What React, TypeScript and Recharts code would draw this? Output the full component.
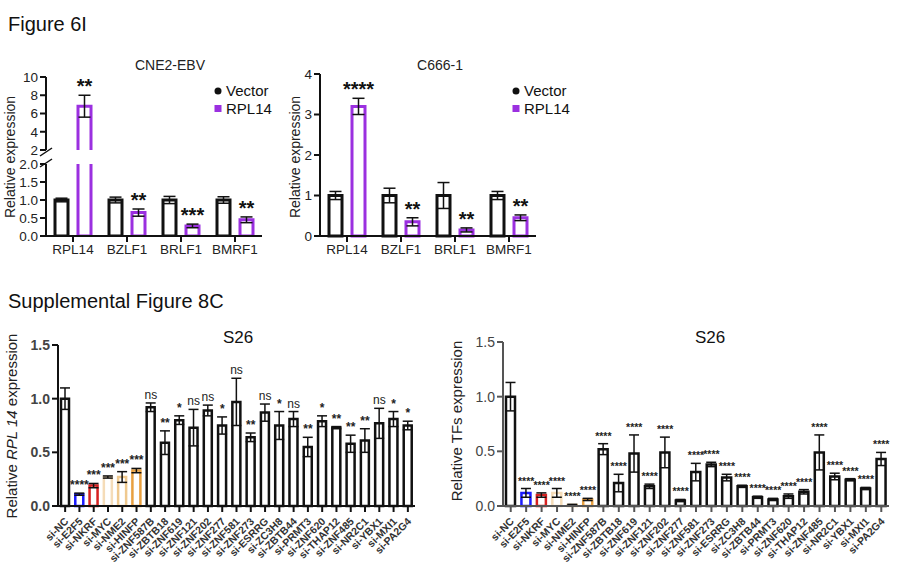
import React from "react";
import { BarChart, ComposedChart, Bar, XAxis, YAxis, ErrorBar, Cell, Scatter, LabelList } from "recharts";

const FONT = "'Liberation Sans', Arial, sans-serif";
const PURPLE = "#9b30e0";

const genes = ["RPL14", "BZLF1", "BRLF1", "BMRF1"];
const cneVector = [1.0, 1.0, 1.0, 1.0];
const cneVectorErr = [0.05, 0.08, 0.1, 0.09];
const cneRpl = [6.8, 0.65, 0.28, 0.45];
const cneRplErr = [1.2, 0.1, 0.05, 0.08];
const cneSig = ["**", "**", "***", "**"];
const c666Vector = [1.0, 1.0, 1.0, 1.0];
const c666VectorErr = [0.1, 0.18, 0.32, 0.1];
const c666Rpl = [3.2, 0.35, 0.15, 0.45];
const c666RplErr = [0.2, 0.1, 0.05, 0.07];
const c666Sig = ["****", "**", "**", "**"];

const sirna = ["si-NC","si-E2F5","si-NKRF","si-MYC","si-NME2","si-HINFP","si-ZNF587B","si-ZBTB18","si-ZNF619","si-ZNF121","si-ZNF202","si-ZNF277","si-ZNF581","si-ZNF273","si-ESRRG","si-ZC3H8","si-ZBTB44","si-PRMT3","si-ZNF620","si-THAP12","si-ZNF485","si-NR2C1","si-YBX1","si-MXI1","si-PA2G4"];
const barColors = ["#111","#1a1aff","#d62020","#f5dcb8","#efc98f","#e8a040","#111","#111","#111","#111","#111","#111","#111","#111","#111","#111","#111","#111","#111","#111","#111","#111","#111","#111","#111"];
const rplVals = [1.0,0.11,0.19,0.27,0.27,0.33,0.92,0.59,0.80,0.73,0.89,0.75,0.97,0.64,0.87,0.75,0.81,0.55,0.79,0.73,0.58,0.61,0.77,0.81,0.75];
const rplErr = [0.1,0.01,0.02,0.01,0.05,0.02,0.04,0.11,0.04,0.17,0.05,0.08,0.22,0.04,0.08,0.13,0.07,0.09,0.05,0.01,0.08,0.11,0.14,0.07,0.04];
const rplSig = ["","****","***","***","***","***","ns","**","*","ns","ns","*","ns","**","ns","*","ns","**","*","**","**","**","ns","*","*"];
const tfVals = [1.0,0.12,0.1,0.12,0.01,0.06,0.52,0.21,0.48,0.18,0.49,0.05,0.31,0.38,0.26,0.18,0.08,0.06,0.09,0.13,0.49,0.27,0.24,0.16,0.43];
const tfErr = [0.13,0.04,0.02,0.04,0.005,0.01,0.05,0.08,0.17,0.02,0.14,0.01,0.08,0.02,0.03,0.01,0.01,0.01,0.02,0.02,0.16,0.03,0.01,0.01,0.06];
const tfSig = ["","****","****","****","****","****","****","****","****","****","****","****","****","****","****","****","****","****","****","****","****","****","****","****","****"];

const cneData = genes.map((g, i) => ({ g, v: cneVector[i], ve: cneVectorErr[i], r: cneRpl[i], re: cneRplErr[i], s: cneSig[i] }));
const cneUpper = genes.map((g, i) => ({ g, v: null, r: cneRpl[i] > 2 ? cneRpl[i] : null, re: cneRplErr[i], s: cneSig[i] }));
const c666Data = genes.map((g, i) => ({ g, v: c666Vector[i], ve: c666VectorErr[i], r: c666Rpl[i], re: c666RplErr[i], s: c666Sig[i] }));
const rplData = sirna.map((n, i) => ({ n, v: rplVals[i], e: rplErr[i], top: rplVals[i] + rplErr[i], s: rplSig[i] }));
const tfData = sirna.map((n, i) => ({ n, v: tfVals[i], e: tfErr[i], top: tfVals[i] + tfErr[i], s: tfSig[i] }));

const tickStyle = { fontFamily: FONT, fontSize: 13.5, fill: "#222" };

const OpenTop = (p: any) => {
  const { x, y, width, height } = p;
  if (height == null || isNaN(height)) return null;
  return <path d={`M${x},${y + height} L${x},${y} L${x + width},${y} L${x + width},${y + height}`} fill="#fff" stroke={PURPLE} strokeWidth={3} />;
};

const sigContent = (unitPx: number, errs: number[], skip: (i: number) => boolean) => (p: any) => {
  const { x, y, width, index, value } = p;
  if (skip(index)) return null;
  const ey = y - errs[index] * unitPx;
  return <text x={x + width / 2} y={ey - 2} textAnchor="middle" fontFamily={FONT} fontSize={20} fontWeight="bold" fill="#111">{value}</text>;
};

const RotTick = (p: any) => {
  const { x, y, payload } = p;
  return (
    <text x={x + 4} y={y + 8} transform={`rotate(-45 ${x + 4} ${y + 8})`} textAnchor="end" fontFamily={FONT} fontSize={10.5} fontWeight="bold" fill="#333">{payload.value}</text>
  );
};

const SigShape = (fs: number) => (p: any) => {
  const { cx, cy, payload } = p;
  if (!payload.s) return null;
  return <text x={cx} y={cy - 4} textAnchor="middle" fontFamily={FONT} fontSize={fs} fontWeight={payload.s === "ns" ? "normal" : "bold"} fill="#222">{payload.s}</text>;
};

function SiChart({ data, domTicks, axisColor, margin, width, height }: any) {
  const bold = axisColor === "#111";
  return (
    <ComposedChart width={width} height={height} data={data} margin={margin} barCategoryGap={3}>
      <XAxis dataKey="n" interval={0} height={65} tick={<RotTick />} stroke={axisColor} strokeWidth={2} tickSize={6} />
      <YAxis domain={[0, 1.5]} ticks={domTicks} interval={0} width={margin.yw} tickFormatter={(v: number) => v.toFixed(1)} stroke={axisColor} strokeWidth={2} tick={{ fontFamily: FONT, fontSize: 14, fontWeight: bold ? "bold" : "normal", fill: "#444" }} />
      <Bar dataKey="v" fill="#fff" strokeWidth={2.5} isAnimationActive={false}>
        {data.map((d: any, i: number) => <Cell key={i} stroke={barColors[i]} />)}
        <ErrorBar dataKey="e" stroke="#111" strokeWidth={1.5} width={5} />
      </Bar>
      <Scatter dataKey="top" fill="#222" shape={SigShape(bold ? 12 : 10.5)} isAnimationActive={false} />
    </ComposedChart>
  );
}

export default function App() {
  const cneLowerUnit = 72 / 2;
  const cneUpperUnit = 73 / 8;
  const c666Unit = 162 / 4;
  return (
    <div style={{ position: "absolute", left: 0, top: 0, width: 900, height: 571, background: "#fff", fontFamily: FONT }}>
      <div style={{ position: "absolute", left: 0, top: 150 }}>
        <BarChart width={290} height={116} data={cneData} margin={{ top: 14, right: 28, left: 0, bottom: 0 }} barCategoryGap={9} barGap={10}>
          <XAxis dataKey="g" height={30} stroke="#111" strokeWidth={2} tick={tickStyle} tickSize={6} />
          <YAxis domain={[0, 2]} ticks={[0, 0.5, 1, 1.5, 2]} interval={0} tickFormatter={(v: number) => v.toFixed(1)} width={46} stroke="#111" strokeWidth={2} tick={tickStyle} allowDataOverflow />
          <Bar dataKey="v" barSize={13} fill="#fff" stroke="#111" strokeWidth={3} isAnimationActive={false}>
            <ErrorBar dataKey="ve" stroke="#111" strokeWidth={1.5} width={6} />
          </Bar>
          <Bar dataKey="r" barSize={13} fill="#fff" stroke={PURPLE} strokeWidth={3} isAnimationActive={false}>
            <ErrorBar dataKey="re" stroke="#111" strokeWidth={1.5} width={6} />
            <LabelList dataKey="s" content={sigContent(cneLowerUnit, cneRplErr, (i) => cneRpl[i] > 2)} />
          </Bar>
        </BarChart>
      </div>
      <div style={{ position: "absolute", left: 0, top: 50 }}>
        <BarChart width={290} height={110} data={cneUpper} margin={{ top: 27, right: 28, left: 0, bottom: 10 }} barCategoryGap={9} barGap={10}>
          <XAxis dataKey="g" hide />
          <YAxis domain={[2, 10]} ticks={[2, 4, 6, 8, 10]} interval={0} width={46} stroke="#111" strokeWidth={2} tick={tickStyle} allowDataOverflow />
          <Bar dataKey="v" barSize={13} fill="#fff" stroke="#111" isAnimationActive={false} />
          <Bar dataKey="r" barSize={13} shape={<OpenTop />} isAnimationActive={false}>
            <ErrorBar dataKey="re" stroke="#111" strokeWidth={1.5} width={6} />
            <LabelList dataKey="s" content={sigContent(cneUpperUnit, cneRplErr, (i) => cneRpl[i] <= 2)} />
          </Bar>
        </BarChart>
      </div>
      <div style={{ position: "absolute", left: 290, top: 50 }}>
        <BarChart width={290} height={216} data={c666Data} margin={{ top: 24, right: 44, left: 0, bottom: 0 }} barCategoryGap={9} barGap={10}>
          <XAxis dataKey="g" height={30} stroke="#111" strokeWidth={2} tick={tickStyle} tickSize={6} />
          <YAxis domain={[0, 4]} ticks={[0, 1, 2, 3, 4]} interval={0} width={30} stroke="#111" strokeWidth={2} tick={tickStyle} />
          <Bar dataKey="v" barSize={13} fill="#fff" stroke="#111" strokeWidth={3} isAnimationActive={false}>
            <ErrorBar dataKey="ve" stroke="#111" strokeWidth={1.5} width={6} />
          </Bar>
          <Bar dataKey="r" barSize={13} fill="#fff" stroke={PURPLE} strokeWidth={3} isAnimationActive={false}>
            <ErrorBar dataKey="re" stroke="#111" strokeWidth={1.5} width={6} />
            <LabelList dataKey="s" content={sigContent(c666Unit, c666RplErr, () => false)} />
          </Bar>
        </BarChart>
      </div>
      <div style={{ position: "absolute", left: 0, top: 320 }}>
        <SiChart data={rplData} domTicks={[0, 0.5, 1, 1.5]} axisColor="#111" width={450} height={251} margin={{ top: 25, right: 35, left: 0, bottom: 0, yw: 58 }} />
      </div>
      <div style={{ position: "absolute", left: 440, top: 320 }}>
        <SiChart data={tfData} domTicks={[0, 0.5, 1, 1.5]} axisColor="#555" width={460} height={251} margin={{ top: 22, right: 11, left: 0, bottom: 0, yw: 63 }} />
      </div>
      <svg width={900} height={571} style={{ position: "absolute", left: 0, top: 0, pointerEvents: "none" }}>
        <text x={8} y={31} fontFamily={FONT} fontSize={20} fill="#111">Figure 6I</text>
        <text x={8} y={308} fontFamily={FONT} fontSize={20} fill="#111">Supplemental Figure 8C</text>
        <text x={170} y={70} textAnchor="middle" fontFamily={FONT} fontSize={14} fill="#222">CNE2-EBV</text>
        <text x={440} y={70} textAnchor="middle" fontFamily={FONT} fontSize={14} fill="#222">C666-1</text>
        <text transform="translate(15,157) rotate(-90)" textAnchor="middle" fontFamily={FONT} fontSize={14} fill="#222">Relative expression</text>
        <text transform="translate(300,157) rotate(-90)" textAnchor="middle" fontFamily={FONT} fontSize={14} fill="#222">Relative expression</text>
        <rect x={44} y={152} width={9} height={11} fill="#fff" />
        <line x1={40} y1={156} x2={52} y2={148} stroke="#111" strokeWidth={1.5} />
        <line x1={40} y1={167} x2={52} y2={159} stroke="#111" strokeWidth={1.5} />
        <circle cx={218} cy={91} r={3.5} fill="#111" />
        <text x={226} y={96} fontFamily={FONT} fontSize={15} fill="#111">Vector</text>
        <rect x={214.5} y={105} width={7} height={7} fill={PURPLE} />
        <text x={226} y={114} fontFamily={FONT} fontSize={15} fill="#111">RPL14</text>
        <circle cx={516} cy={91} r={3.5} fill="#111" />
        <text x={524} y={96} fontFamily={FONT} fontSize={15} fill="#111">Vector</text>
        <rect x={512.5} y={105} width={7} height={7} fill={PURPLE} />
        <text x={524} y={114} fontFamily={FONT} fontSize={15} fill="#111">RPL14</text>
        <text x={238} y={343} textAnchor="middle" fontFamily={FONT} fontSize={17} fill="#111">S26</text>
        <text x={710} y={343} textAnchor="middle" fontFamily={FONT} fontSize={17} fill="#111">S26</text>
        <text transform="translate(17,426) rotate(-90)" textAnchor="middle" fontFamily={FONT} fontSize={15} fill="#222">
          Relative <tspan fontStyle="italic">RPL 14</tspan> expression
        </text>
        <text transform="translate(462,421) rotate(-90)" textAnchor="middle" fontFamily={FONT} fontSize={15} fill="#222">Relative TFs expression</text>
      </svg>
    </div>
  );
}
